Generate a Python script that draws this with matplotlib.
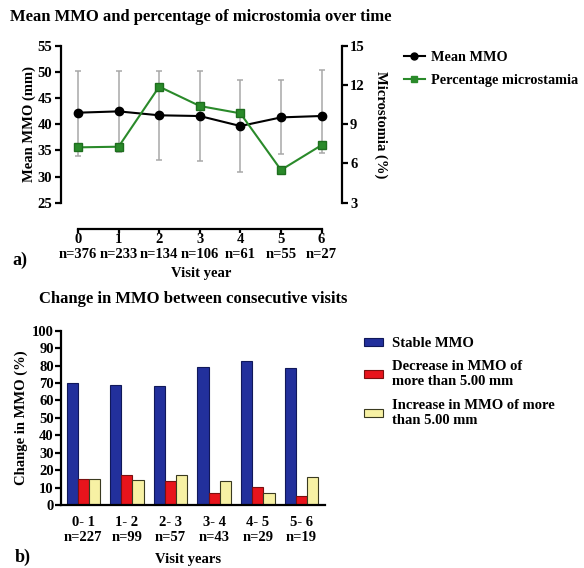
import numpy as np
import matplotlib.pyplot as plt
from matplotlib.lines import Line2D

plt.rcParams['font.family'] = ['Liberation Serif', 'DejaVu Serif']
plt.rcParams['font.weight'] = 'bold'

# panel a data
years = [0, 1, 2, 3, 4, 5, 6]
n_year = [376, 233, 134, 106, 61, 55, 27]
mmo_mean = [42.2, 42.45, 41.7, 41.56, 39.65, 41.3, 41.57]
mmo_low = [33.9, 34.7, 33.15, 33.0, 30.86, 34.3, 34.55]
mmo_high = [50.2, 50.2, 50.1, 50.2, 48.4, 48.4, 50.35]
micro_pct = [7.23, 7.28, 11.87, 10.39, 9.83, 5.5, 7.4]

# panel b data
pairs = ['0- 1', '1- 2', '2- 3', '3- 4', '4- 5', '5- 6']
n_pair = [227, 99, 57, 43, 29, 19]
stable = [69.8, 68.6, 68.3, 79.0, 82.6, 78.8]
decrease = [15.1, 17.0, 13.8, 6.7, 10.5, 5.2]
increase = [14.7, 14.15, 17.0, 13.8, 6.7, 15.9]

W, H = 584, 568
fig = plt.figure(figsize=(W/100, H/100), dpi=100)

def fx(px):
    return px / W

def fy(py):
    return 1 - py / H

lw_sp = 1.6
fs = 10.5

# ---- panel a ----
ax1 = fig.add_axes([fx(60.7), fy(202.7), fx(341.7-60.7), (202.7-45.7)/H])
mmo_mean = np.array(mmo_mean)
yerr = [mmo_mean - np.array(mmo_low), np.array(mmo_high) - mmo_mean]
ax1.errorbar(years, mmo_mean, yerr=yerr, fmt='none', ecolor='#a8a8a8',
             elinewidth=1.1, capsize=2.5, capthick=1.1, zorder=1)
ax1.plot(years, mmo_mean, 'o-', color='black', ms=6, lw=1.5, zorder=3)
ax1.set_xlim(-0.426, 6.495)
ax1.set_ylim(25, 55)
ax1.set_yticks([25, 30, 35, 40, 45, 50, 55])
ax1.set_xticks(years)
ax1.set_xticklabels([f'{y}\nn={n}' for y, n in zip(years, n_year)], linespacing=0.9)
ax1.spines['top'].set_visible(False)
ax1.spines['right'].set_visible(False)
ax1.spines['bottom'].set_position(('outward', 19))
ax1.spines['bottom'].set_bounds(0, 6)
for s in ['left', 'bottom']:
    ax1.spines[s].set_linewidth(lw_sp)
ax1.tick_params(direction='out', length=4, width=lw_sp, labelsize=fs, pad=2)
ax1.tick_params(axis='x', length=3, pad=0)
ax1.set_ylabel('Mean MMO (mm)', fontsize=fs, fontweight='bold', labelpad=1)

ax2 = ax1.twinx()
ax2.plot(years, micro_pct, 's-', color='#2a8a2a', mec='#1e6e1e', ms=6, lw=1.5, zorder=3)
ax2.set_ylim(3, 15)
ax2.set_yticks([3, 6, 9, 12, 15])
for s in ['top', 'left', 'bottom']:
    ax2.spines[s].set_visible(False)
ax2.spines['right'].set_linewidth(lw_sp)
ax2.tick_params(direction='out', length=4, width=lw_sp, labelsize=fs, pad=2)
ax2.set_ylabel('Microstomia (%)', fontsize=fs, fontweight='bold', rotation=-90, labelpad=16)

handles_a = [Line2D([], [], color='black', marker='o', ms=5, lw=1.5),
             Line2D([], [], color='#2a8a2a', marker='s', ms=5, lw=1.5)]
fig.legend(handles_a, ['Mean MMO', 'Percentage microstamia'], loc='upper left',
           bbox_to_anchor=(fx(398), fy(45)), frameon=False, fontsize=10.3,
           handlelength=1.5, handletextpad=0.4, labelspacing=0.75, borderaxespad=0)

fig.text(fx(201), fy(17), 'Mean MMO and percentage of microstomia over time',
         ha='center', va='center', fontsize=12, fontweight='bold')
fig.text(fx(201), fy(273), 'Visit year', ha='center', va='center', fontsize=fs)
fig.text(fx(12), fy(260), 'a)', ha='left', va='center', fontsize=13)

# ---- panel b ----
ax3 = fig.add_axes([fx(60.7), fy(505), fx(325-60.7), (505-330.7)/H])
x = np.arange(len(pairs))
w = 0.255
ax3.bar(x - w, stable, w, color='#22309c', edgecolor='#10185a', lw=0.8, label='Stable MMO')
ax3.bar(x, decrease, w, color='#e8141c', edgecolor='#7a1010', lw=0.8,
        label='Decrease in MMO of\nmore than 5.00 mm')
ax3.bar(x + w, increase, w, color='#f7f1a4', edgecolor='#3a3a20', lw=0.8,
        label='Increase in MMO of more\nthan 5.00 mm')
ax3.set_xlim(-0.518, 5.54)
ax3.set_ylim(0, 100)
ax3.set_yticks(range(0, 101, 10))
ax3.set_xticks(x)
ax3.set_xticklabels([f'{p}\nn={n}' for p, n in zip(pairs, n_pair)], linespacing=1.15)
ax3.spines['top'].set_visible(False)
ax3.spines['right'].set_visible(False)
for s in ['left', 'bottom']:
    ax3.spines[s].set_linewidth(lw_sp)
ax3.tick_params(axis='y', direction='out', length=4, width=lw_sp, labelsize=fs, pad=1)
ax3.tick_params(axis='x', length=0, labelsize=fs, pad=8)
ax3.set_ylabel('Change in MMO (%)', fontsize=fs, fontweight='bold', labelpad=3)

fig.legend(loc='upper left', bbox_to_anchor=(fx(358), fy(331)), frameon=False,
           fontsize=10.5, handlelength=1.3, handleheight=0.5, handletextpad=0.6,
           labelspacing=0.72, borderaxespad=0)

fig.text(fx(193), fy(299), 'Change in MMO between consecutive visits',
         ha='center', va='center', fontsize=12, fontweight='bold')
fig.text(fx(188), fy(559), 'Visit years', ha='center', va='center', fontsize=fs)
fig.text(fx(15), fy(557), 'b)', ha='left', va='center', fontsize=13)

fig.savefig('out.png', dpi=100)
